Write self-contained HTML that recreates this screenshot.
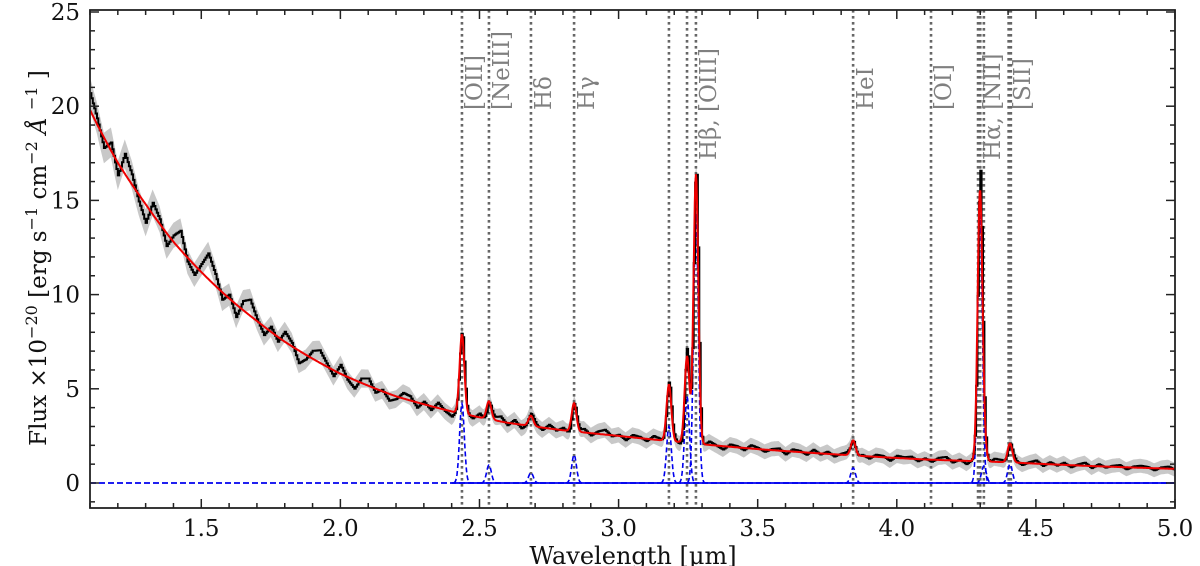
<!DOCTYPE html>
<html><head><meta charset="utf-8"><style>
html,body{margin:0;padding:0;background:#fff;}
svg{display:block;font-family:"DejaVu Serif","Liberation Serif",serif;}
</style></head><body>
<svg id="chart" width="1200" height="566" viewBox="0 0 1200 566" xmlns="http://www.w3.org/2000/svg">
<g id="plot"></g>
<g id="axes"></g>
</svg>
<script>
// ---- data ----
const contWave = [1.1,1.2,1.3,1.4,1.5,1.6,1.7,1.8,1.9,2.0,2.2,2.4,2.6,2.8,3.0,3.2,3.5,3.8,4.1,4.4,4.7,5.0];
const contFlux = [19.8,17.0,14.8,12.8,11.2,9.8,8.6,7.5,6.6,5.8,4.6,3.8,3.2,2.8,2.5,2.2,1.8,1.5,1.25,1.1,0.9,0.75];
const lineNames = ["[OII]","[NeIII]","Hδ","Hγ","Hβ, [OIII]","HeI","[OI]","Hα, [NII]","[SII]"];
const lineLabelWave = [2.437,2.534,2.685,2.84,3.278,3.843,4.123,4.299,4.407];
const markerWave = [2.437,2.534,2.685,2.84,3.181,3.246,3.278,3.843,4.123,4.292,4.300,4.313,4.402,4.410];
const gaussWave = [2.437,2.534,2.685,2.84,3.181,3.246,3.278,3.843,4.299,4.313,4.407];
const gaussAmp  = [4.2,0.95,0.55,1.5,3.0,4.6,14.3,0.8,14.2,0.9,1.0];
const residStart = 1.1, residStep = 0.025;
const residuals = [0.6,0.2,-0.4,0.3,-0.5,0.8,0.4,-0.3,-0.8,0.5,0.2,-0.6,0.3,0.9,-0.2,-0.5,0.4,1.3,0.6,-0.4,
 0.2,-0.7,0.5,0.9,0.1,-0.5,0.3,-0.3,0.6,0.2,-0.8,-0.3,0.5,0.8,0.2,-0.4,0.6,-0.2,-0.6,0.3,
 0.5,-0.3,0.1,-0.5,-0.2,0.4,0.3,-0.4,0.2,-0.3,0.4,-0.1,-0.4,0.3,0.1,-0.2,0.3,-0.3,0.2,0.4,
 -0.2,0.3,-0.3,0.1,0.2,-0.2,0.3,-0.1,0.2,-0.3,0.1,0.3,-0.2,0.2,0.4,-0.1,0.1,-0.3,0.2,0.1,
 -0.2,0.3,0.1,-0.2,0.2,-0.3,0.1,0.2,-0.2,0.3,0.0,-0.3,0.2,0.1,-0.2,0.3,0.1,-0.2,0.1,0.2,
 -0.3,0.2,0.1,-0.2,0.3,-0.1,0.2,-0.2,0.1,0.3,-0.2,0.1,-0.2,0.2,0.1,-0.3,0.2,0.1,0.2,-0.2,
 0.1,-0.2,0.2,0.3,-0.2,0.1,-0.3,0.2,0.1,-0.2,0.3,0.2,-0.1,0.2,-0.2,0.1,0.3,-0.2,0.2,-0.1,
 0.2,-0.2,0.1,0.3,-0.2,0.2,-0.1,0.1,0.2,-0.2,0.1,0.2,0.1,-0.2,0.1,0.2,-0.1];
const peakBoost = [0.0,0.0,0.0,0.0,0.2,0.4,0.3,0.0,1.0,0.0,0.0];
const xTicks = [1.5,2.0,2.5,3.0,3.5,4.0,4.5,5.0];
const xTickLabels = ["1.5","2.0","2.5","3.0","3.5","4.0","4.5","5.0"];
const yTicks = [0,5,10,15,20,25];
const yTickLabels = ["0","5","10","15","20","25"];

// ---- axes ----
const L=90,R=1175,T=10,B=508;
const x0=1.1,x1=5.0;
const X = w => L + (w-x0)/(x1-x0)*(R-L);
const Y = f => 483 - f*(471/25);
const NS="http://www.w3.org/2000/svg";
function mk(tag, attrs, parent){const e=document.createElementNS(NS,tag);for(const k in attrs)e.setAttribute(k,attrs[k]);parent.appendChild(e);return e;}
const plot=document.getElementById('plot'), axes=document.getElementById('axes');

function cont(w){
  for(let i=0;i<contWave.length-1;i++){
    if(w<=contWave[i+1]){const t=(w-contWave[i])/(contWave[i+1]-contWave[i]);
      return Math.exp(Math.log(contFlux[i])*(1-t)+Math.log(contFlux[i+1])*t);}
  }
  return contFlux[contFlux.length-1];
}
const SIG=0.0085;
function gauss(j,w){return gaussAmp[j]*Math.exp(-0.5*Math.pow((w-gaussWave[j])/SIG,2));}
function model(w){let s=cont(w);for(let j=0;j<gaussWave.length;j++)s+=gauss(j,w);return s;}
function resid(w){
  const p=(w-residStart)/residStep;let i=Math.floor(p);i=Math.max(0,Math.min(residuals.length-2,i));
  const t=Math.min(1,Math.max(0,p-i));return residuals[i]*(1-t)+residuals[i+1]*t;
}
function obs(w){
  let s=model(w)+resid(w)*(0.5+0.5*cont(w)/10);
  for(let j=0;j<gaussWave.length;j++) s+=peakBoost[j]*Math.exp(-0.5*Math.pow((w-gaussWave[j])/SIG,2));
  return s;
}

const clip=mk('clipPath',{id:'cp'},plot);mk('rect',{x:L,y:T,width:R-L,height:B-T},clip);
const g=mk('g',{'clip-path':'url(#cp)'},plot);

// error band + observed (step)
const step=0.005;let up=[],lo=[],st='';
for(let w=x0;w<=x1+1e-9;w+=step){
  const f=obs(w), e=0.35+0.5*cont(w)/20+0.04*gaussAmp.reduce((a,_,j)=>a+gauss(j,w),0)/5;
  up.push(X(w).toFixed(1)+','+Y(f+e).toFixed(1));lo.unshift(X(w).toFixed(1)+','+Y(f-e).toFixed(1));
  st+=(st?'L':'M')+X(w).toFixed(1)+','+Y(f).toFixed(1)+'H'+X(w+step).toFixed(1);
}
const band=mk('polygon',{points:up.concat(lo).join(' '),fill:'#c8c8c8',stroke:'none'},g);



// marker lines
markerWave.forEach(w=>{
  const ln=mk('line',{x1:X(w),x2:X(w),y1:T,y2:B,stroke:'#666','stroke-width':2.6,'stroke-dasharray':'2.6,3.4'},g);
  
  
});

// blue gaussians
const zl=mk('line',{x1:L,x2:R,y1:Y(0),y2:Y(0),stroke:'#0000ee','stroke-width':1.8,'stroke-dasharray':'6,3'},g);


const zs=mk('line',{x1:X(2.4),x2:R,y1:Y(0),y2:Y(0),stroke:'#0000ee','stroke-width':1.8},g);


gaussWave.forEach((c,j)=>{
  let d='';for(let w=c-0.03;w<=c+0.03;w+=0.002){d+=(d?'L':'M')+X(w).toFixed(1)+','+Y(gauss(j,w)).toFixed(1);}
  const p=mk('path',{d:d,fill:'none',stroke:'#0000ee','stroke-width':1.6,'stroke-dasharray':'5,3'},g);
  
  
});

const op=mk('path',{d:st,fill:'none',stroke:'#000','stroke-width':2},g);



let md='';for(let w=x0;w<=x1;w+=0.002){md+=(md?'L':'M')+X(w).toFixed(1)+','+Y(model(w)).toFixed(1);}
const mp=mk('path',{d:md,fill:'none',stroke:'#ee0000','stroke-width':2},g);



// line labels
lineNames.forEach((n,i)=>{
  const long=n.indexOf(',')>0;
  const xx=X(lineLabelWave[i])+20, yy=long?160:110;
  const t=mk('text',{x:xx,y:yy,transform:`rotate(-90 ${xx} ${yy})`,fill:'#808080','font-size':23},axes);
  t.textContent=n;
  
  
});

// frame & ticks
const fr=mk('rect',{x:L,y:T,width:R-L,height:B-T,fill:'none',stroke:'#222','stroke-width':1.8},axes);


for(let k=11;k<=50;k++){const w=k/10,maj=(k%5===0),len=maj?9:5;
  mk('line',{x1:X(w),x2:X(w),y1:B,y2:B-len,stroke:'#222','stroke-width':1.5},axes);
  mk('line',{x1:X(w),x2:X(w),y1:T,y2:T+len,stroke:'#222','stroke-width':1.5},axes);}
for(let v=-1;v<=25;v++){const maj=(v%5===0),len=maj?9:5;
  mk('line',{x1:L,x2:L+len,y1:Y(v),y2:Y(v),stroke:'#222','stroke-width':1.5},axes);
  mk('line',{x1:R,x2:R-len,y1:Y(v),y2:Y(v),stroke:'#222','stroke-width':1.5},axes);}
xTicks.forEach((w,i)=>{const t=mk('text',{x:X(w),y:536,'text-anchor':'middle','font-size':23,fill:'#111'},axes);t.textContent=xTickLabels[i];
  
  });
yTicks.forEach((v,i)=>{const t=mk('text',{x:80,y:Y(v)+8,'text-anchor':'end','font-size':23,fill:'#111'},axes);t.textContent=yTickLabels[i];
  
  });
</script>
<svg style="position:absolute;left:0;top:0" width="1200" height="566">
<text x="633" y="564" text-anchor="middle" font-size="24" fill="#111" font-family="DejaVu Serif, Liberation Serif, serif">Wavelength [μm]</text>
<text transform="rotate(-90 46 258)" x="46" y="258" text-anchor="middle" font-size="23" fill="#111" font-family="DejaVu Serif, Liberation Serif, serif">Flux ×10<tspan dy="-9" font-size="16">−20</tspan><tspan dy="9"> [erg s</tspan><tspan dy="-9" font-size="16">−1</tspan><tspan dy="9"> cm</tspan><tspan dy="-9" font-size="16">−2</tspan><tspan dy="9" font-style="italic"> Å </tspan><tspan dy="-9" font-size="16">−1</tspan><tspan dy="9"> ]</tspan></text>
</svg>
</body></html>
